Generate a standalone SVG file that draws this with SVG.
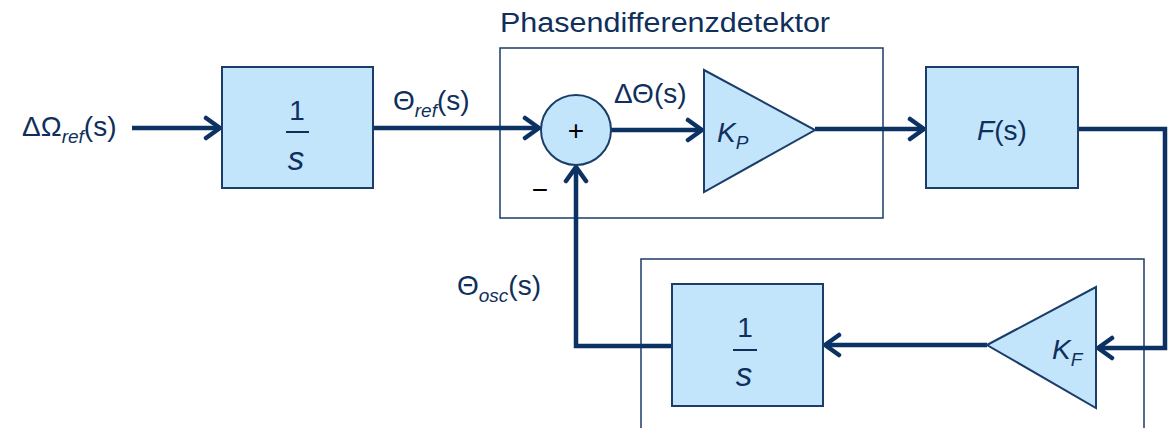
<svg xmlns="http://www.w3.org/2000/svg" width="1176" height="428" viewBox="0 0 1176 428">
<style>
.blk{fill:#C3E5FC;stroke:#1B3D6A;stroke-width:2}
.grp{fill:none;stroke:#1B3D6A;stroke-width:1.5}
.wire{fill:none;stroke:#0B3262;stroke-width:4.5;stroke-linejoin:miter}
.t{font-family:"Liberation Sans",Arial,sans-serif;fill:#0F2F5C}
.it{font-style:italic}
.k{font-family:"Liberation Sans",Arial,sans-serif;fill:#000}
</style>
<defs>
<marker id="arr" markerUnits="userSpaceOnUse" markerWidth="24" markerHeight="26" viewBox="-2 -2 22 26" refX="16" refY="11" orient="auto">
<path d="M2,1 L16,11 L2,21" fill="none" stroke="#0B3262" stroke-width="4.5" stroke-linecap="round" stroke-linejoin="round"/>
</marker>
</defs>
<g id="pd-group">
<rect class="grp" x="500" y="48" width="383" height="170"/>
<text class="t" x="500" y="32" font-size="27" textLength="330" lengthAdjust="spacingAndGlyphs">Phasendifferenzdetektor</text>
</g>
<g id="vco-group">
<path class="grp" d="M641,430 V259 H1144 V430"/>
</g>
<g id="connectors">
<path class="wire" d="M132,128 H220" marker-end="url(#arr)"/>
<path class="wire" d="M373,128 H539" marker-end="url(#arr)"/>
<path class="wire" d="M611,130 H702" marker-end="url(#arr)"/>
<path class="wire" d="M815,129 H924" marker-end="url(#arr)"/>
<path class="wire" d="M1078,129 H1165 V348 H1098" marker-end="url(#arr)"/>
<path class="wire" d="M987,345 H825" marker-end="url(#arr)"/>
<path class="wire" d="M672,346 H576 V167" marker-end="url(#arr)"/>
</g>
<g id="input-label">
<text class="t" x="22" y="136" font-size="28">ΔΩ<tspan class="it" font-size="19" dy="7">ref</tspan><tspan dy="-7">(s)</tspan></text>
</g>
<g id="integrator1">
<rect class="blk" x="222" y="67" width="151" height="121"/>
<text class="t" x="297" y="120" font-size="28" text-anchor="middle">1</text>
<line x1="286" y1="132" x2="309" y2="132" stroke="#0F2F5C" stroke-width="2"/>
<text class="t it" x="296" y="170" font-size="33" text-anchor="middle">s</text>
</g>
<g id="theta-ref-label">
<text class="t" x="393" y="110" font-size="28">Θ<tspan class="it" font-size="19" dy="7">ref</tspan><tspan dy="-7">(s)</tspan></text>
</g>
<g id="summer">
<circle class="blk" cx="576" cy="130" r="35"/>
<text class="k" x="576" y="140" font-size="28" text-anchor="middle">+</text>
<text class="k" x="540" y="199" font-size="28" text-anchor="middle">−</text>
</g>
<g id="delta-theta-label">
<text class="t" x="614" y="103" font-size="28">ΔΘ(s)</text>
</g>
<g id="kp">
<polygon class="blk" points="704,70 815,130 704,192"/>
<text class="t it" x="717" y="142" font-size="28">K<tspan font-size="19" dy="7">P</tspan></text>
</g>
<g id="filter">
<rect class="blk" x="926" y="67" width="152" height="121"/>
<text class="t" x="1002" y="140" font-size="28" text-anchor="middle"><tspan class="it">F</tspan>(s)</text>
</g>
<g id="kf">
<polygon class="blk" points="987,345 1096,287 1096,408"/>
<text class="t it" x="1052" y="359" font-size="28">K<tspan font-size="19" dy="7">F</tspan></text>
</g>
<g id="integrator2">
<rect class="blk" x="672" y="284" width="151" height="122"/>
<text class="t" x="745" y="337" font-size="28" text-anchor="middle">1</text>
<line x1="733" y1="350" x2="757" y2="350" stroke="#0F2F5C" stroke-width="2"/>
<text class="t it" x="744" y="386" font-size="33" text-anchor="middle">s</text>
</g>
<g id="theta-osc-label">
<text class="t" x="457" y="295" font-size="28">Θ<tspan class="it" font-size="19" dy="7">osc</tspan><tspan dy="-7">(s)</tspan></text>
</g>
</svg>
